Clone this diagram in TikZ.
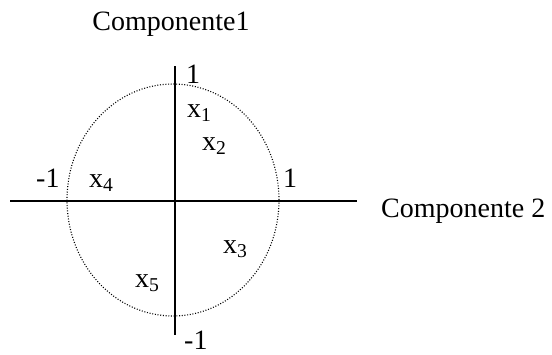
\documentclass[tikz,border=0pt]{standalone}
\usepackage{fontspec}
\setmainfont{Liberation Serif}
\begin{document}
\begin{tikzpicture}[x=1pt,y=-1pt,
  lbl/.style={anchor=base west,inner sep=0pt,font=\fontsize{28}{34}\selectfont},
  axis/.style={line width=1.6pt},
  circ/.style={line width=1.1pt,dash pattern=on 1pt off 1.7pt}]
\useasboundingbox (0,0) rectangle (552,354);
\coordinate (hl) at (10,201);
\coordinate (hr) at (357,201);
\coordinate (vt) at (175,66);
\coordinate (vb) at (175,335);
\draw[axis] (hl) -- (hr);
\draw[axis] (vt) -- (vb);
\draw[circ] (173,200) ellipse [x radius=106, y radius=116];
\node[lbl,anchor=base] (c1) at (171,30) {Componente1};
\node[lbl] (c2) at (381,217) {Componente 2};
\node[lbl] (t1) at (186,83) {1};
\node[lbl] (r1) at (283,187) {1};
\node[lbl] (l1) at (36,187) {-1};
\node[lbl] (b1) at (184,349) {-1};
\node[lbl] (x1) at (187,117) {x\textsubscript{1}};
\node[lbl] (x2) at (202,150) {x\textsubscript{2}};
\node[lbl] (x4) at (89,187) {x\textsubscript{4}};
\node[lbl] (x3) at (223,253) {x\textsubscript{3}};
\node[lbl] (x5) at (135,287) {x\textsubscript{5}};
\end{tikzpicture}
\end{document}
